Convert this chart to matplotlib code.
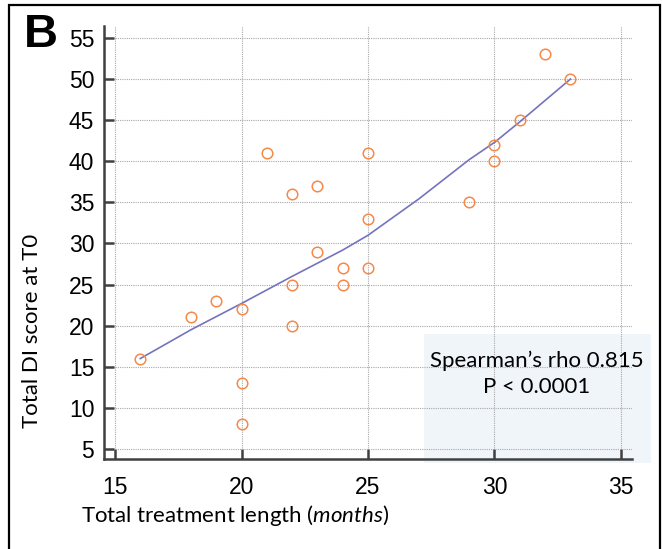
import matplotlib
matplotlib.use("Agg")
import matplotlib.pyplot as plt
from matplotlib.patches import Rectangle

# Data
months = [16, 18, 19, 20, 20, 20, 21, 22, 22, 22, 23, 23, 24, 24, 25, 25, 25, 29, 30, 30, 31, 32, 33]
di_score = [16, 21, 23, 22, 13, 8, 41, 36, 25, 20, 37, 29, 27, 25, 41, 33, 27, 35, 42, 40, 45, 53, 50]

fit_x = [16, 18, 20, 22, 24, 25, 27, 29, 30, 31, 33]
fit_y = [16, 19.5, 22.7, 26, 29.2, 31, 35.4, 40.2, 42.3, 44.8, 50]

x_ticks = [15, 20, 25, 30, 35]
y_ticks = [5, 10, 15, 20, 25, 30, 35, 40, 45, 50, 55]

stats_text = "Spearman\u2019s rho 0.815\nP < 0.0001"

plt.rcParams['mathtext.fontset'] = 'custom'
plt.rcParams['mathtext.rm'] = 'Lato'
plt.rcParams['mathtext.it'] = 'Lato:italic'

W, H = 662, 549
fig = plt.figure(figsize=(W / 100, H / 100), dpi=100)

def fx(px):
    return px / W

def fy(py):
    return 1 - py / H

# outer frame
fig.patches.append(Rectangle((fx(9), fy(560)), fx(660) - fx(9), fy(5) - fy(560),
                             transform=fig.transFigure, fill=False, edgecolor='black',
                             linewidth=1.6, zorder=5))
# stats box
fig.patches.append(Rectangle((fx(424), fy(463)), fx(651) - fx(424), fy(334) - fy(463),
                             transform=fig.transFigure, facecolor='#f0f5fa', edgecolor='none',
                             zorder=-1))

ax = fig.add_axes([fx(104), fy(459), fx(632) - fx(104), fy(26) - fy(459)])
ax.patch.set_alpha(0)

ax.set_xlim(14.565, 35.435)
ax.set_ylim(3.78, 56.46)

ax.grid(True, color='#a8a8a8', linestyle=(0, (1, 1)), linewidth=0.8)
ax.set_axisbelow(True)

ax.plot(fit_x, fit_y, color='#7474bd', linewidth=1.2, zorder=3)
ax.plot(months, di_score, linestyle='none', marker='o', markersize=7.6,
        markerfacecolor='none', markeredgecolor='#f5894a', markeredgewidth=1.1, zorder=4)

for s in ['top', 'right']:
    ax.spines[s].set_visible(False)
for s in ['left', 'bottom']:
    ax.spines[s].set_color('#404040')
    ax.spines[s].set_linewidth(1.8)

ax.set_xticks(x_ticks)
ax.set_yticks(y_ticks)
ax.tick_params(axis='both', direction='in', length=7, width=1.8, color='#404040',
               labelsize=16.5, labelcolor='black')
ax.tick_params(axis='y', pad=7)
ax.tick_params(axis='x', pad=12)
for lbl in ax.get_xticklabels() + ax.get_yticklabels():
    lbl.set_fontfamily('Liberation Sans')

fig.text(fx(32), fy(331), "Total DI score at T0", rotation=90, ha='center', va='center',
         fontsize=16, family='Lato')
fig.text(fx(235), fy(516), "Total treatment length ($\\mathit{months}$)", ha='center', va='center',
         fontsize=16, family='Lato')
fig.text(fx(537), fy(374), stats_text, ha='center', va='center', fontsize=16,
         family='Lato', linespacing=1.4)
fig.text(fx(41), fy(35), "B", ha='center', va='center', fontsize=34, fontweight='bold',
         family='Liberation Sans')

fig.savefig("out.png", dpi=100)
